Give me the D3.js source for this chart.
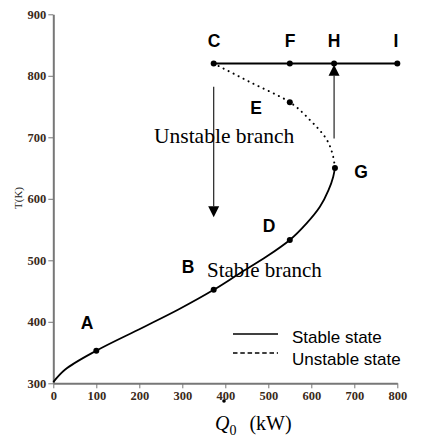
<!DOCTYPE html>
<html>
<head>
<meta charset="utf-8">
<script src="https://cdn.jsdelivr.net/npm/d3@7"></script>
<style>
  html, body { margin: 0; padding: 0; background: #fff; }
  svg { display: block; }
</style>
</head>
<body>
<svg id="chart" width="427" height="441"></svg>
<script>
// ---- data ----
const xTicks = [0, 100, 200, 300, 400, 500, 600, 700, 800];
const yTicks = [300, 400, 500, 600, 700, 800, 900];

const stableQ = [0, 27, 100, 206, 291, 373, 434, 496, 550, 589, 620, 640, 651, 655];
const stableT = [302, 322, 353, 390, 420, 452, 479, 506, 533, 560, 587, 614, 636, 650];

const unstableQ = [655, 651, 636, 597, 550, 457, 373];
const unstableT = [650, 668, 696, 728, 757, 790, 820];

const upperQ = [373, 800];
const upperT = [820, 820];

const pointLabels = ["A", "B", "C", "D", "E", "F", "G", "H", "I"];
const pointQ = [100, 373, 373, 550, 550, 550, 655, 653, 800];
const pointT = [353, 452, 820, 533, 757, 820, 650, 820, 820];

// arrows: [Q, T start, T end]
const arrowDown = { q: 373, from: 782, to: 570 };
const arrowUp = { q: 653, from: 698, to: 818 };

const legendLabels = ["Stable state", "Unstable state"];

// ---- chart ----
const svg = d3.select("#chart");
const x = d3.scaleLinear().domain([0, 800]).range([53.3, 397.3]);
const y = d3.scaleLinear().domain([300, 900]).range([383.3, 14.3]);

// axes
const xAxis = d3.axisBottom(x).tickValues(xTicks).tickSize(5).tickPadding(3).tickSizeOuter(0);
const yAxis = d3.axisLeft(y).tickValues(yTicks).tickSize(5).tickPadding(2).tickSizeOuter(0);

const gx = svg.append("g").attr("transform", `translate(0,${y(300)})`).call(xAxis);
const gy = svg.append("g").attr("transform", `translate(${x(0)},0)`).call(yAxis);
[gx, gy].forEach(g => {
  g.select(".domain").attr("stroke", "#777").attr("stroke-width", 2);
  g.selectAll(".tick line").attr("stroke", "#777").attr("stroke-width", 1);
  g.selectAll(".tick text")
    .attr("fill", "#3a2a1a")
    .attr("font-family", "'Liberation Serif', 'Times New Roman', serif")
    .attr("font-size", 12.5)
    .attr("font-weight", "bold");
});

// axis labels
svg.append("text")
  .attr("transform", `translate(22,198) rotate(-90)`)
  .attr("text-anchor", "middle")
  .attr("font-family", "'Liberation Serif', 'Times New Roman', serif")
  .attr("font-size", 11)
  .attr("fill", "#222")
  .text("T(K)");

const xl = svg.append("text")
  .attr("x", 215).attr("y", 430)
  .attr("font-family", "'Liberation Serif', 'Times New Roman', serif")
  .attr("font-size", 20)
  .attr("fill", "#000");
xl.append("tspan").attr("font-style", "italic").text("Q");
xl.append("tspan").attr("font-size", 14).attr("dy", 5).text("0");
xl.append("tspan").attr("dy", -5).attr("dx", 13).text("(kW)");
// dot above Q
svg.append("circle").attr("cx", 224).attr("cy", 401).attr("r", 1.8).attr("fill", "#000");

// curves
const stableData = stableQ.map((q, i) => [q, stableT[i]]);
const unstableData = unstableQ.map((q, i) => [q, unstableT[i]]);
const upperData = upperQ.map((q, i) => [q, upperT[i]]);

const line = d3.line().x(d => x(d[0])).y(d => y(d[1])).curve(d3.curveMonotoneY);

svg.append("path").datum(stableData).attr("d", line)
  .attr("fill", "none").attr("stroke", "#000").attr("stroke-width", 1.8);

svg.append("path").datum(unstableData).attr("d", line)
  .attr("fill", "none").attr("stroke", "#000").attr("stroke-width", 2)
  .attr("stroke-dasharray", "0.1,5.5").attr("stroke-linecap", "round");

svg.append("path").datum(upperData).attr("d", d3.line().x(d => x(d[0])).y(d => y(d[1])))
  .attr("fill", "none").attr("stroke", "#000").attr("stroke-width", 2);

// arrows
function arrow(a, dir) {
  const xp = x(a.q);
  const y1 = y(a.from), y2 = y(a.to);
  const headLen = 11, headW = 5.5;
  const base = y2 - dir * headLen;
  svg.append("line").attr("x1", xp).attr("x2", xp).attr("y1", y1).attr("y2", base)
    .attr("stroke", "#222").attr("stroke-width", 1.2);
  svg.append("path")
    .attr("d", `M${xp - headW},${base}L${xp + headW},${base}L${xp},${y2}Z`)
    .attr("fill", "#000");
}
arrow(arrowDown, 1);
arrow(arrowUp, -1);

// points
svg.selectAll("circle.pt").data(pointQ).join("circle")
  .attr("class", "pt")
  .attr("cx", d => x(d))
  .attr("cy", (d, i) => y(pointT[i]))
  .attr("r", 3)
  .attr("fill", "#000");

// point labels
const labelPos = {
  A: [87, 329], B: [188, 273], C: [214, 47], D: [269, 232], E: [256, 114],
  F: [290, 47], H: [334, 47], I: [396, 47], G: [361, 178]
};
svg.selectAll("text.lbl").data(pointLabels).join("text")
  .attr("class", "lbl")
  .attr("x", d => labelPos[d][0])
  .attr("y", d => labelPos[d][1])
  .attr("text-anchor", "middle")
  .attr("font-family", "'Liberation Sans', Arial, sans-serif")
  .attr("font-weight", "bold")
  .attr("font-size", 17.5)
  .attr("fill", "#000")
  .text(d => d);

// branch texts
svg.append("text").attr("x", 154).attr("y", 143)
  .attr("font-family", "'Liberation Serif', 'Times New Roman', serif")
  .attr("font-size", 21.5).attr("fill", "#000").text("Unstable branch");
svg.append("text").attr("x", 207).attr("y", 277)
  .attr("font-family", "'Liberation Serif', 'Times New Roman', serif")
  .attr("font-size", 21).attr("fill", "#000").text("Stable branch");

// legend
const lg = svg.append("g");
lg.append("line").attr("x1", 233).attr("x2", 278).attr("y1", 334).attr("y2", 334)
  .attr("stroke", "#000").attr("stroke-width", 1.6);
lg.append("line").attr("x1", 233).attr("x2", 278).attr("y1", 353).attr("y2", 353)
  .attr("stroke", "#000").attr("stroke-width", 1.5).attr("stroke-dasharray", "4.5,2.8");
lg.selectAll("text").data(legendLabels).join("text")
  .attr("x", 292)
  .attr("y", (d, i) => 343 + i * 22)
  .attr("font-family", "'Liberation Sans', Arial, sans-serif")
  .attr("font-size", 17)
  .attr("fill", "#000")
  .text(d => d);
</script>
</body>
</html>
